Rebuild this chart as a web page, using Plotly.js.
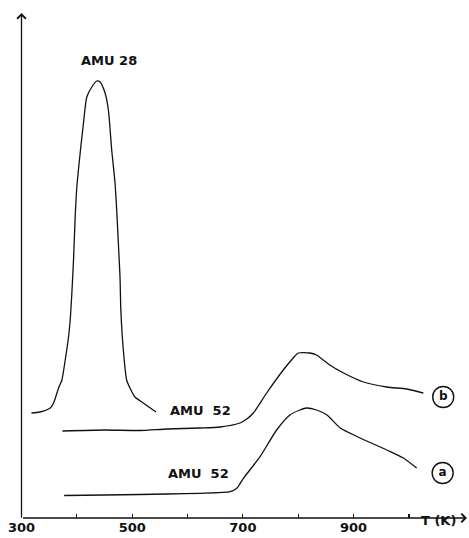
<!DOCTYPE html>
<html>
<head>
<meta charset="utf-8">
<script src="https://cdn.plot.ly/plotly-3.0.1.min.js"></script>
<style>html,body{margin:0;padding:0;background:#fff;}#chart{width:469px;height:538px;}</style>
</head>
<body>
<div id="chart"></div>
<script>
// Temperature (K) and signal (arbitrary units, offset traces)
const amu28T = [318,333,352,358,367,373,379,385,388,391,394,397,400,406,412,418,427,436,442,451,457,463,469,472,475,478,479.5,484,490,496,505,520,543];
const amu28Y = [105,106,110,115,130,138,158,181,198,225,258,301,331,365,395,421,431,437,436,425,408,368,335,308,275,241,208,168,138,130,121,115,106];

const amu52bT = [374,450,514,563,623,659,695,707,719,743,773,791,800,821,833,857,882,918,960,996,1026];
const amu52bY = [87,88,87.5,89,90,91,95,99,105,125,148,160,165,165,163,153,145,136,131,129,125];

const amu52aT = [377,450,514,563,623,677,689,701,731,761,785,803,815,833,852,876,912,960,990,1014];
const amu52aY = [22.5,23,23.5,24,24.7,26.3,29.7,39.7,61.3,88,103,108,110,108,103,90,80,68,60,50];

const tickVals = [300,400,500,600,700,800,900,1000];
const tickText = ['300','','500','','700','','900',''];

const ink = '#111';
const lineStyle = {color: ink, width: 1.3, shape: 'spline', smoothing: 0.6};
const labelFont = {family: 'DejaVu Sans', size: 13, color: ink, weight: 'bold'};

const traces = [
  {x: amu28T, y: amu28Y, mode: 'lines', line: lineStyle, hoverinfo: 'skip'},
  {x: amu52bT, y: amu52bY, mode: 'lines', line: lineStyle, hoverinfo: 'skip'},
  {x: amu52aT, y: amu52aY, mode: 'lines', line: lineStyle, hoverinfo: 'skip'},
  {x: [1062, 1061], y: [121, 45], mode: 'markers+text', text: ['b', 'a'],
   textposition: 'middle center',
   textfont: {family: 'DejaVu Sans', size: 12, color: ink, weight: 'bold'},
   marker: {symbol: 'circle-open', size: 21, color: ink, line: {width: 1.4, color: ink}},
   hoverinfo: 'skip'}
];

const layout = {
  width: 469, height: 538,
  margin: {l: 0, r: 0, t: 0, b: 20},
  paper_bgcolor: '#fff', plot_bgcolor: '#fff',
  showlegend: false,
  xaxis: {
    range: [261.15, 1108.6], showgrid: false, zeroline: false, showline: false,
    ticks: 'inside', ticklen: 4, tickwidth: 1.2, tickcolor: ink,
    tickvals: tickVals, ticktext: tickText,
    tickfont: {family: 'DejaVu Sans', size: 13, color: ink, weight: 'bold'}
  },
  yaxis: {range: [0, 518], visible: false},
  annotations: [
    {x: 1105, y: 0, ax: 300, ay: 0, xref: 'x', yref: 'y', axref: 'x', ayref: 'y',
     text: '', showarrow: true, arrowhead: 4, arrowsize: 1.3, arrowwidth: 1.3, arrowcolor: ink, standoff: 0},
    {x: 300, y: 505, ax: 300, ay: 0, xref: 'x', yref: 'y', axref: 'x', ayref: 'y',
     text: '', showarrow: true, arrowhead: 4, arrowsize: 1.3, arrowwidth: 1.3, arrowcolor: ink, standoff: 0},
    {x: 458, y: 458, xref: 'x', yref: 'y', text: 'AMU 28', showarrow: false, font: labelFont},
    {x: 623, y: 108, xref: 'x', yref: 'y', text: 'AMU\u00a0 52', showarrow: false, font: labelFont},
    {x: 620, y: 45, xref: 'x', yref: 'y', text: 'AMU\u00a0 52', showarrow: false, font: labelFont},
    {x: 1054, y: -12/518, xref: 'x', yref: 'paper', text: 'T (K)', showarrow: false, font: labelFont}
  ]
};

Plotly.newPlot('chart', traces, layout, {staticPlot: true, displayModeBar: false});
</script>
</body>
</html>
